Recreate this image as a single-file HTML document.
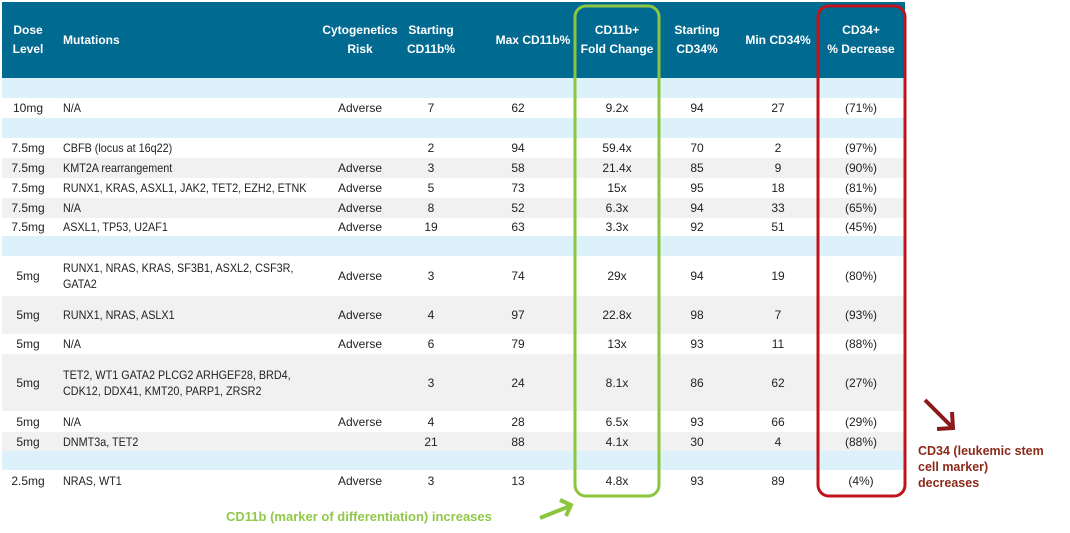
<!DOCTYPE html>
<html><head><meta charset="utf-8">
<style>
body{margin:0;width:1070px;height:533px;background:#fff;position:relative;overflow:hidden;font-family:"Liberation Sans",Arial,sans-serif;}
.hdr{position:absolute;left:2px;top:2px;width:903px;height:76px;background:#006a91;}
.hc{position:absolute;color:#fff;font-weight:bold;font-size:12px;line-height:19px;text-align:center;}
.row{position:absolute;left:2px;width:903px;}
.c{position:absolute;font-size:12px;color:#222;line-height:16px;}
.ctr{text-align:center;width:80px;}
.mut{white-space:nowrap;overflow:hidden;transform:scaleX(0.9);transform-origin:0 0;}
</style></head><body>
<div class="hdr"></div>
<div class="hc" style="left:4px;top:21px;width:48px;">Dose<br>Level</div>
<div class="hc" style="left:63px;top:31px;text-align:left;">Mutations</div>
<div class="hc" style="left:310px;top:21px;width:100px;">Cytogenetics<br>Risk</div>
<div class="hc" style="left:396px;top:21px;width:70px;">Starting<br>CD11b%</div>
<div class="hc" style="left:488px;top:31px;width:90px;">Max CD11b%</div>
<div class="hc" style="left:572px;top:21px;width:90px;">CD11b+<br>Fold Change</div>
<div class="hc" style="left:657px;top:21px;width:80px;">Starting<br>CD34%</div>
<div class="hc" style="left:738px;top:31px;width:80px;">Min CD34%</div>
<div class="hc" style="left:816px;top:21px;width:90px;">CD34+<br>% Decrease</div>
<div id="tbl"></div>
<svg width="1070" height="533" style="position:absolute;left:0;top:0">
<rect x="575" y="6" width="84" height="490" rx="11" fill="none" stroke="#8cc63f" stroke-width="3"/>
<rect x="818" y="6" width="87" height="490" rx="11" fill="none" stroke="#c0141c" stroke-width="3"/>
<line x1="540" y1="518" x2="570" y2="506" stroke="#8cc63f" stroke-width="4"/>
<polyline points="560,500 571,505 566,516" fill="none" stroke="#8cc63f" stroke-width="4"/>
<line x1="925" y1="400" x2="952" y2="427" stroke="#8b1a1a" stroke-width="4"/>
<polyline points="937,429 953,428 952,412" fill="none" stroke="#8b1a1a" stroke-width="4"/>
<text x="226" y="521" font-family="Liberation Sans,Arial,sans-serif" font-size="13" font-weight="bold" fill="#92c84a">CD11b (marker of differentiation) increases</text>
<text font-family="Liberation Sans,Arial,sans-serif" font-size="12.5" font-weight="bold" fill="#8b2a1a"><tspan x="918" y="455">CD34 (leukemic  stem</tspan><tspan x="918" y="471">cell marker)</tspan><tspan x="918" y="487">decreases</tspan></text>
</svg>
<script>
const doses=["10mg","7.5mg","7.5mg","7.5mg","7.5mg","7.5mg","5mg","5mg","5mg","5mg","5mg","5mg","2.5mg"];
const mutations=["N/A","CBFB (locus at 16q22)","KMT2A rearrangement","RUNX1, KRAS, ASXL1, JAK2, TET2, EZH2, ETNK","N/A","ASXL1, TP53, U2AF1","RUNX1, NRAS, KRAS, SF3B1, ASXL2, CSF3R,<br>GATA2","RUNX1, NRAS, ASLX1","N/A","TET2, WT1 GATA2 PLCG2 ARHGEF28, BRD4,<br>CDK12, DDX41, KMT20, PARP1, ZRSR2","N/A","DNMT3a, TET2","NRAS, WT1"];
const risks=["Adverse","","Adverse","Adverse","Adverse","Adverse","Adverse","Adverse","Adverse","","Adverse","","Adverse"];
const startCD11b=[7,2,3,5,8,19,3,4,6,3,4,21,3];
const maxCD11b=[62,94,58,73,52,63,74,97,79,24,28,88,13];
const foldChange=["9.2x","59.4x","21.4x","15x","6.3x","3.3x","29x","22.8x","13x","8.1x","6.5x","4.1x","4.8x"];
const startCD34=[94,70,85,95,94,92,94,98,93,86,93,30,93];
const minCD34=[27,2,9,18,33,51,19,7,11,62,66,4,89];
const decrease=["(71%)","(97%)","(90%)","(81%)","(65%)","(45%)","(80%)","(93%)","(88%)","(27%)","(29%)","(88%)","(4%)"];
const rowTop=[98,138,158,178,198,218,256,296,334,354,411,432,470];
const rowH=[20,20,20,20,20,18,40,38,20,57,21,19,22];
const shade=[0,0,1,0,1,0,0,1,0,1,0,1,0];
const spacers=[[78,20],[118,20],[236,20],[451,19]];
const T=document.getElementById('tbl');
spacers.forEach(s=>{const d=document.createElement('div');d.className='row';d.style.top=s[0]+'px';d.style.height=s[1]+'px';d.style.background='#dcf1fa';


T.appendChild(d);});
function cell(v,left,top,h,cls,w,name){const html=String(v);const c=document.createElement('div');c.className='c '+cls;c.innerHTML=html;c.style.left=left+'px';if(w)c.style.width=w+'px';
const lines=(html.match(/<br>/g)||[]).length+1;c.style.top=(top+(h-lines*16)/2)+'px';


T.appendChild(c);}
doses.forEach((d,i)=>{const r=document.createElement('div');r.className='row';r.style.top=rowTop[i]+'px';r.style.height=rowH[i]+'px';r.style.background=shade[i]?'#f1f1f1':'#fff';


T.appendChild(r);
const t=rowTop[i],h=rowH[i];
cell(d,0,t,h,'ctr',56,'dose-cell');
cell(mutations[i],63,t,h,'mut',272,'mutations-cell');
cell(risks[i],320,t,h,'ctr',80,'risk-cell');
cell(startCD11b[i],391,t,h,'ctr',80,'starting-cd11b-cell');
cell(maxCD11b[i],478,t,h,'ctr',80,'max-cd11b-cell');
cell(foldChange[i],577,t,h,'ctr',80,'fold-change-cell');
cell(startCD34[i],657,t,h,'ctr',80,'starting-cd34-cell');
cell(minCD34[i],738,t,h,'ctr',80,'min-cd34-cell');
cell(decrease[i],821,t,h,'ctr',80,'cd34-decrease-cell');
});
</script>
</body></html>
